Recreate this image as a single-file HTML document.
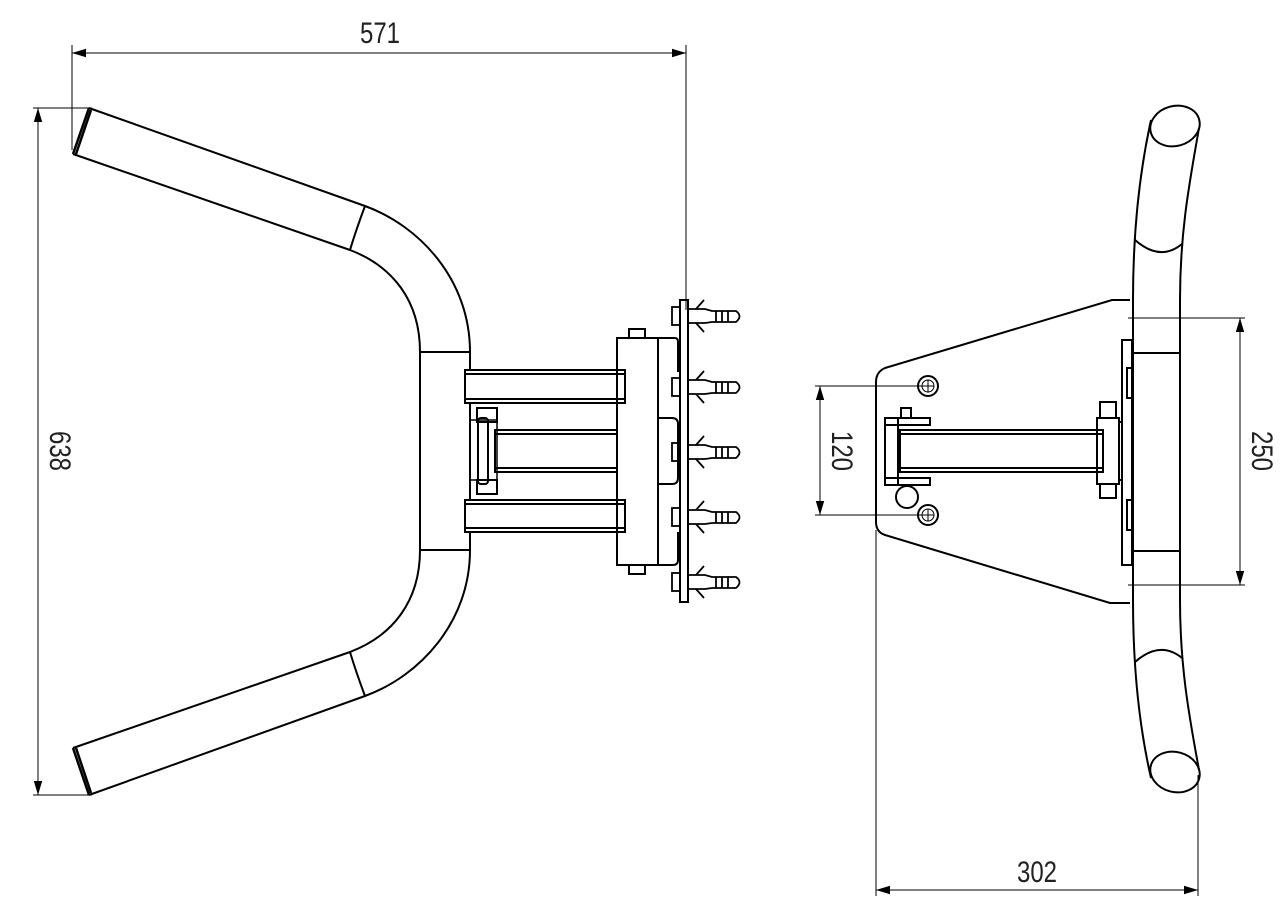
<!DOCTYPE html>
<html><head><meta charset="utf-8"><style>
html,body{margin:0;padding:0;background:#fff;}
svg{display:block}
text{font-family:"Liberation Sans",sans-serif;font-size:30px;fill:#222;}
</style></head><body>
<svg width="1283" height="919" viewBox="0 0 1283 919" xmlns="http://www.w3.org/2000/svg">
<defs>
<marker id="a" viewBox="0 0 10 10" refX="10" refY="5" markerWidth="14" markerHeight="14" markerUnits="userSpaceOnUse" orient="auto-start-reverse"><path d="M0,2 L10,5 L0,8 Z" fill="#000"/></marker>
</defs>
<g fill="none" stroke="#000" stroke-width="1">
<line x1="72" y1="45" x2="72" y2="150"/><line x1="686" y1="45" x2="686" y2="310"/>
<line x1="72" y1="53" x2="686" y2="53" marker-start="url(#a)" marker-end="url(#a)"/>
<line x1="33" y1="108" x2="92" y2="108"/><line x1="33" y1="795" x2="92" y2="795"/>
<line x1="38" y1="108" x2="38" y2="795" marker-start="url(#a)" marker-end="url(#a)"/>
<line x1="815" y1="386" x2="922" y2="386"/><line x1="815" y1="515" x2="922" y2="515"/>
<line x1="820" y1="386" x2="820" y2="515" marker-start="url(#a)" marker-end="url(#a)"/>
<line x1="1128" y1="318" x2="1245" y2="318"/><line x1="1128" y1="585" x2="1245" y2="585"/>
<line x1="1240" y1="318" x2="1240" y2="585" marker-start="url(#a)" marker-end="url(#a)"/>
<line x1="876" y1="530" x2="876" y2="896"/><line x1="1198" y1="775" x2="1198" y2="896"/>
<line x1="876" y1="890" x2="1198" y2="890" marker-start="url(#a)" marker-end="url(#a)"/>
</g>
<text x="380" y="43" text-anchor="middle" transform="scale(0.8,1) translate(95,0)">571</text>
<text transform="translate(50,451) rotate(90) scale(0.8,1)" text-anchor="middle">638</text>
<text transform="translate(832,451) rotate(90) scale(0.8,1)" text-anchor="middle">120</text>
<text transform="translate(1252,451) rotate(90) scale(0.8,1)" text-anchor="middle">250</text>
<text transform="translate(1037,882) scale(0.8,1)" text-anchor="middle">302</text>

<g fill="none" stroke="#000" stroke-width="2">
<path d="M89,108 L365,206 C420,226 470,280 470,352 L470,550 C470,622 420,676 365,696 L89,795"/>
<path d="M73,154 L350,250 C392,266 420,300 420,352 L420,550 C420,602 392,636 350,652 L73,748"/>
<path d="M89,108 L73,154 M91,110 L76,154 M89,795 L73,748 M91,793 L76,748" stroke-width="2.5"/>
<path d="M365,206 Q356,230 350,250 M365,696 Q356,672 350,652"/>
<line x1="420" y1="352" x2="470" y2="352"/><line x1="420" y1="550" x2="470" y2="550"/>
<rect x="465" y="370" width="160" height="33" fill="#fff"/>
<line x1="465" y1="374" x2="625" y2="374"/><line x1="465" y1="399" x2="625" y2="399"/>
<rect x="465" y="500" width="160" height="32" fill="#fff"/>
<line x1="465" y1="504" x2="625" y2="504"/><line x1="465" y1="528" x2="625" y2="528"/>
<rect x="495" y="430" width="122" height="42"/>
<line x1="495" y1="434" x2="617" y2="434"/><line x1="495" y1="468" x2="617" y2="468"/>
<rect x="470" y="420" width="27" height="60" stroke-width="1.5"/>
<rect x="478" y="418" width="10" height="66" rx="3"/>
<rect x="477" y="408" width="20" height="14"/><rect x="477" y="480" width="20" height="14"/>
<rect x="617" y="338" width="41" height="227"/>
<line x1="658" y1="345" x2="658" y2="558"/>
<path d="M658,338 L675,338 Q678,338 678,342 L678,372 M678,532 L678,560 Q678,565 673,565 L658,565"/>
<path d="M658,418 L672,418 Q678,418 678,424 L678,478 Q678,484 672,484 L658,484"/>
<rect x="629" y="329" width="16" height="9"/><rect x="629" y="565" width="16" height="9"/>
<rect x="680" y="300" width="8" height="302"/>
</g>
<g fill="none" stroke="#000" stroke-width="1.8">
<g id="anc">
<rect x="672" y="307" width="8" height="18"/>
<path d="M688,309 L705,309 L712,311 L736,311 Q743,316 736,322 L712,322 L705,323 L688,323"/>
<path d="M696,309 L704,300 M696,323 L704,332"/>
<line x1="716" y1="311" x2="716" y2="322"/><line x1="722" y1="311" x2="722" y2="322"/><line x1="728" y1="311" x2="728" y2="322"/>
</g>
<use href="#anc" y="71"/><use href="#anc" y="136"/><use href="#anc" y="201"/><use href="#anc" y="266"/>
</g>

<g fill="none" stroke="#000" stroke-width="2">
<path d="M1130,300 L1112,300 L885,368 Q876,372 876,382 L876,522 Q876,532 885,535 L1110,603 L1130,603"/>
<rect x="1122" y="340" width="10" height="225"/>
<rect x="1127" y="368" width="5" height="30"/><rect x="1127" y="500" width="5" height="30"/>
<path d="M1151,120 C1140,170 1133,230 1133,300 L1133,600 C1133,670 1140,730 1151,778"/>
<path d="M1199,128 C1190,180 1180,230 1180,300 L1180,600 C1180,670 1190,720 1199,770"/>
<ellipse cx="1175" cy="126" rx="25" ry="20" transform="rotate(-15 1175 126)"/>
<ellipse cx="1175" cy="772" rx="25" ry="20" transform="rotate(15 1175 772)"/>
<path d="M1135,240 Q1160,262 1182,244 M1135,662 Q1160,640 1182,658"/>
<line x1="1133" y1="353" x2="1180" y2="353"/><line x1="1133" y1="551" x2="1180" y2="551"/>
<rect x="900" y="430" width="203" height="42"/>
<line x1="900" y1="434" x2="1103" y2="434"/><line x1="900" y1="468" x2="1103" y2="468"/>
<rect x="885" y="418" width="13" height="67"/><rect x="885" y="418" width="45" height="7"/><rect x="885" y="478" width="45" height="7"/>
<rect x="901" y="408" width="10" height="10"/>
<circle cx="907" cy="497" r="11"/>
<rect x="1097" y="418" width="22" height="66"/><rect x="1100" y="402" width="16" height="16"/><rect x="1100" y="484" width="16" height="14"/>
<path d="M1119,422 L1122,422 M1119,480 L1122,480"/>
<circle cx="928" cy="386" r="10"/><circle cx="928" cy="386" r="6" stroke-width="1"/>
<circle cx="928" cy="515" r="10"/><circle cx="928" cy="515" r="6" stroke-width="1"/>
</g>
<g stroke="#000" stroke-width="1"><path d="M922,386 L934,386 M928,380 L928,392 M922,515 L934,515 M928,509 L928,521"/></g>
</svg>
</body></html>
